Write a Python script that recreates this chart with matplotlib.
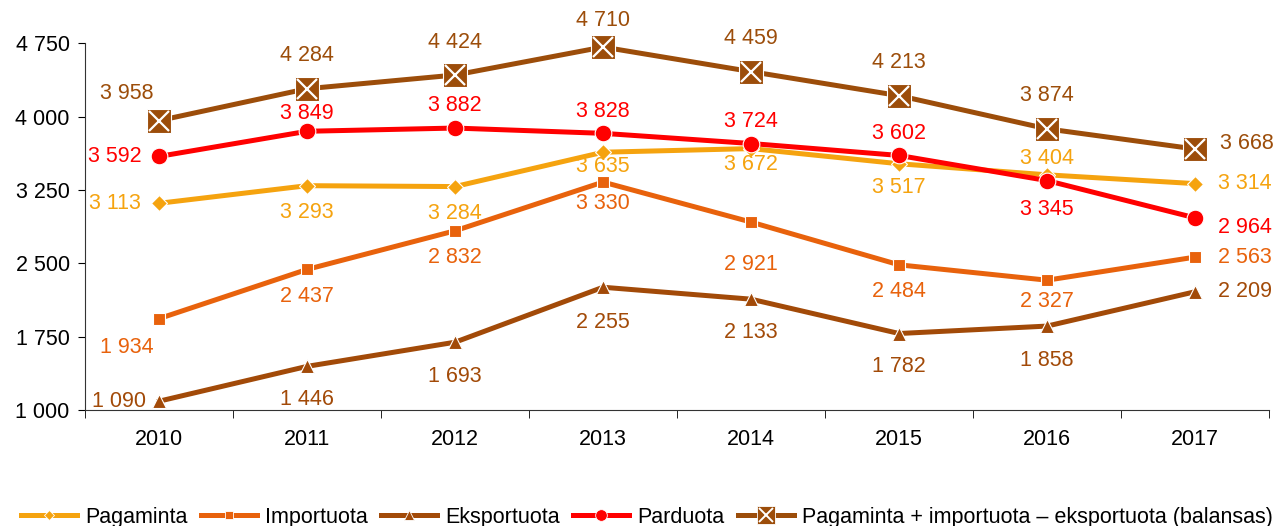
import matplotlib.pyplot as plt
import matplotlib.lines as mlines
from matplotlib.legend_handler import HandlerTuple

plt.rcParams['font.family'] = ['Liberation Sans', 'DejaVu Sans']

years = ['2010', '2011', '2012', '2013', '2014', '2015', '2016', '2017']
pagaminta = [3113, 3293, 3284, 3635, 3672, 3517, 3404, 3314]
importuota = [1934, 2437, 2832, 3330, 2921, 2484, 2327, 2563]
eksportuota = [1090, 1446, 1693, 2255, 2133, 1782, 1858, 2209]
parduota = [3592, 3849, 3882, 3828, 3724, 3602, 3345, 2964]
balansas = [3958, 4284, 4424, 4710, 4459, 4213, 3874, 3668]

names = ['Pagaminta', 'Importuota', 'Eksportuota', 'Parduota',
         'Pagaminta + importuota \u2013 eksportuota (balansas)']

c_pag = '#F5A30F'
c_imp = '#E8620C'
c_eks = '#A24A08'
c_par = '#FF0000'
c_bal = '#9C4D0A'

# label offsets in pixels (dx, dy) per point
L, B, R = (-44, 0), (0, -27), (50, 0)
off_pag = [L, B, B, (0, -14), (0, -16), (0, -24), (0, 16), R]
off_imp = [(-32, -29), B, B, (0, -21), (0, -42), B, (0, -21), R]
off_eks = [(-40, 0), (0, -33), (0, -34), (0, -35), (0, -33), (0, -33), (0, -34), R]
off_par = [L, (0, 18), (0, 23), (0, 22), (0, 22), (0, 22), (0, -29), (50, -10)]
off_bal = [(-32, 27), (0, 33), (0, 33), (0, 27), (0, 33), (0, 33), (0, 33), (52, 5)]

def fmt(v):
    return '{:,}'.format(v).replace(',', ' ')

fig = plt.figure(figsize=(12.76, 5.26), dpi=100)
ax = fig.add_axes([0.0666, 0.2205, 0.928, 0.6975])
x = list(range(len(years)))

series = [
    (pagaminta, c_pag, 'D', 8, off_pag),
    (importuota, c_imp, 's', 9, off_imp),
    (eksportuota, c_eks, '^', 10, off_eks),
    (parduota, c_par, 'o', 12, off_par),
    (balansas, c_bal, 's', 17, off_bal),
]
for vals, col, mk, ms, offs in series:
    ax.plot(x, vals, color=col, lw=3.6, marker=mk, ms=ms,
            mec='white', mew=0.8, zorder=3, clip_on=False)
    for xi, v, o in zip(x, vals, offs):
        ax.annotate(fmt(v), (xi, v), xytext=o, textcoords='offset pixels',
                    ha='center', va='center', color=col, fontsize=15.5,
                    annotation_clip=False)

# white cross inside balansas squares
ax.plot(x, balansas, ls='none', marker='x', ms=14, mec='white', mew=1.6,
        zorder=4, clip_on=False)
cross = mlines.Line2D([], [], ls='none', marker='x', ms=10, mec='white', mew=1.4)

ax.set_xlim(-0.5, 7.5)
ax.set_ylim(1000, 4750)
yt = [1000, 1750, 2500, 3250, 4000, 4750]
ax.set_yticks(yt)
ax.set_yticklabels([fmt(v) for v in yt])
ax.set_xticks(x)
ax.set_xticklabels(years)
ax.set_xticks([i + 0.5 for i in range(-1, 8)], minor=True)
ax.tick_params(axis='x', which='major', length=0, pad=14)
ax.tick_params(axis='x', which='minor', length=6, direction='out')
ax.tick_params(axis='y', length=5, direction='out', pad=6)
ax.tick_params(labelsize=15.5)
for s in ['top', 'right']:
    ax.spines[s].set_visible(False)
for s in ['left', 'bottom']:
    ax.spines[s].set_color('#333333')

leg_handles = []
for vals, col, mk, ms, offs in series:
    leg_handles.append(mlines.Line2D([], [], color=col, lw=3.6, marker=mk,
                                     ms=ms * 0.7, mec='white', mew=0.6))
leg_handles[-1] = (mlines.Line2D([], [], color=c_bal, lw=3.6, marker='s',
                                 ms=13, mec='white', mew=0.6), cross)
fig.legend(leg_handles, names, loc='lower center', bbox_to_anchor=(0.507, -0.04),
           ncol=5, frameon=False, fontsize=15.5, handlelength=2.6,
           handletextpad=0.4, columnspacing=0.6,
           handler_map={tuple: HandlerTuple(ndivide=1)})

fig.savefig('out.png', dpi=100)
